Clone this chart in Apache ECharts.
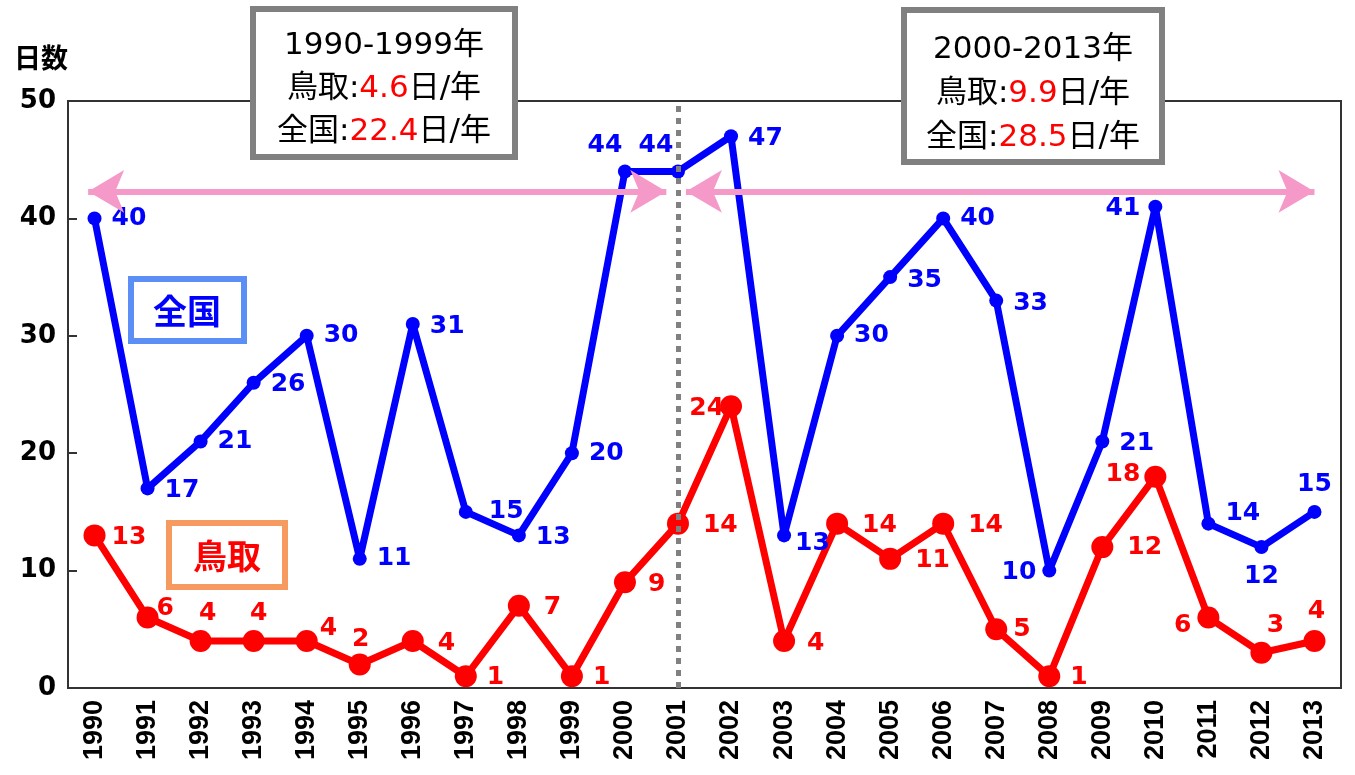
<!DOCTYPE html>
<html><head><meta charset="utf-8">
<script src="https://cdn.jsdelivr.net/npm/echarts@6/dist/echarts.min.js"></script>
<style>html,body{margin:0;padding:0;background:#fff}#c{width:1355px;height:775px}</style>
</head><body><div id="c"></div>
<script>
const years = ['1990','1991','1992','1993','1994','1995','1996','1997','1998','1999','2000','2001','2002','2003','2004','2005','2006','2007','2008','2009','2010','2011','2012','2013'];
const zenkoku = [40,17,21,26,30,11,31,15,13,20,44,44,47,13,30,35,40,33,10,21,41,14,12,15];
const tottori = [13,6,4,4,4,2,4,1,7,1,9,14,24,4,14,11,14,5,1,12,18,6,3,4];
const yMin = 0, yMax = 50, yStep = 10;
const dividerYear = '2001';
const arrowSpans = [[-0.12, 10.78, 42.3], [11.15, 23.0, 42.3]];

// label placement (style only)
const bluePos = ['right','right','right','right','right','right','right','right','right','right','top','top','right','right','right','right','right','right','left','right','left','right','bottom','top'];
const blueOff = [[0,0],[0,2],[0,0],[0,2],[0,0],[0,0],[0,2],[6,0],[0,2],[0,0],[-20,4],[-22,4],[0,2],[-6,8],[0,0],[0,3],[0,0],[0,3],[4,2],[0,2],[2,2],[0,-10],[0,0],[0,2]];
const redPos = ['right','right','top','top','right','top','right','right','right','right','right','right','left','right','right','right','right','right','right','right','left','left','top','top'];
const redOff = [[0,2],[-8,-9],[7,2],[5,2],[-4,-13],[1,4],[8,2],[4,1],[8,2],[4,1],[6,2],[8,2],[10,2],[6,2],[8,2],[8,2],[8,2],[0,0],[4,1],[8,0],[2,-2],[0,8],[14,2],[2,0]];

const fontNum = 'DejaVu Sans';
const blueData = zenkoku.map((v,i)=>({value:v,label:{position:bluePos[i],offset:blueOff[i]}}));
const redData = tottori.map((v,i)=>({value:v,label:{position:redPos[i],offset:redOff[i]}}));
const boxFont = '31px "DejaVu Sans", "Noto Sans CJK JP"';

const chart = echarts.init(document.getElementById('c'));
chart.setOption({
  animation:false,
  grid:{left:68,right:14,top:101,bottom:87,show:true,borderColor:'#333',borderWidth:2,backgroundColor:'transparent'},
  xAxis:[{
    type:'category',data:years,boundaryGap:true,
    axisLine:{lineStyle:{color:'#333',width:2}},
    axisTick:{inside:true,length:9,lineStyle:{color:'#333',width:2}},
    axisLabel:{rotate:90,fontSize:27,fontWeight:'bold',color:'#000',fontFamily:'Liberation Sans',margin:12}
  },{
    type:'value',min:-0.5,max:23.5,show:false
  }],
  yAxis:{
    type:'value',min:yMin,max:yMax,interval:yStep,
    splitLine:{show:false},
    axisLine:{show:true,onZero:false,lineStyle:{color:'#333',width:2}},
    axisTick:{show:true,inside:true,length:9,lineStyle:{color:'#333',width:2}},
    axisLabel:{fontSize:26,fontWeight:'bold',color:'#000',fontFamily:fontNum,margin:12}
  },
  series:[
    {type:'line',data:redData,symbol:'circle',symbolSize:22,z:3,
      lineStyle:{color:'#ff0000',width:7},itemStyle:{color:'#ff0000'},
      label:{show:true,color:'#ff0000',fontSize:25,fontWeight:'bold',fontFamily:fontNum,distance:6}},
    {type:'line',data:blueData,symbol:'circle',symbolSize:14,z:4,
      lineStyle:{color:'#0000ff',width:7},itemStyle:{color:'#0000ff'},
      label:{show:true,color:'#0000ff',fontSize:25,fontWeight:'bold',fontFamily:fontNum,distance:10}},
    {type:'line',xAxisIndex:1,data:[],z:2,
      markLine:{silent:true,symbol:['arrow','arrow'],symbolSize:[32,36],label:{show:false},
        lineStyle:{color:'#f59ac8',width:6,type:'solid'},
        data:arrowSpans.map(s=>[{coord:[s[0],s[2]]},{coord:[s[1],s[2]]}])}},
    {type:'line',data:[],z:10,
      markLine:{silent:true,symbol:['none','none'],label:{show:false},
        lineStyle:{color:'#808080',width:5,type:[6,6]},
        data:[{xAxis:dividerYear}]}}
  ],
  graphic:[
    {type:'text',left:14,top:44,style:{text:'日数',font:'bold 27px "Noto Sans CJK JP"',fill:'#000'}},
    {type:'rect',shape:{x:253,y:9,width:262,height:148},style:{fill:'#fff',stroke:'#808080',lineWidth:6},z:20},
    {type:'text',x:384,y:89,z:21,style:{
      text:'1990-1999年\n鳥取:{r|4.6}日/年\n全国:{r|22.4}日/年',
      font:boxFont,fill:'#000',align:'center',verticalAlign:'middle',lineHeight:43,
      rich:{r:{fill:'#ff0000',font:boxFont,lineHeight:43}}}},
    {type:'rect',shape:{x:904,y:10,width:258,height:152},style:{fill:'#fff',stroke:'#808080',lineWidth:6},z:20},
    {type:'text',x:1033,y:94,z:21,style:{
      text:'2000-2013年\n鳥取:{r|9.9}日/年\n全国:{r|28.5}日/年',
      font:boxFont,fill:'#000',align:'center',verticalAlign:'middle',lineHeight:44,
      rich:{r:{fill:'#ff0000',font:boxFont,lineHeight:44}}}},
    {type:'rect',shape:{x:131,y:279,width:113,height:62},style:{fill:'#fff',stroke:'#5b8ff5',lineWidth:6},z:20},
    {type:'text',x:187,y:311,z:21,style:{text:'全国',font:'bold 34px "Noto Sans CJK JP"',fill:'#0000ff',align:'center',verticalAlign:'middle'}},
    {type:'rect',shape:{x:169,y:523,width:116,height:64},style:{fill:'#fff',stroke:'#f79a60',lineWidth:6},z:20},
    {type:'text',x:227,y:556,z:21,style:{text:'鳥取',font:'bold 34px "Noto Sans CJK JP"',fill:'#ff0000',align:'center',verticalAlign:'middle'}}
  ]
});
</script></body></html>
